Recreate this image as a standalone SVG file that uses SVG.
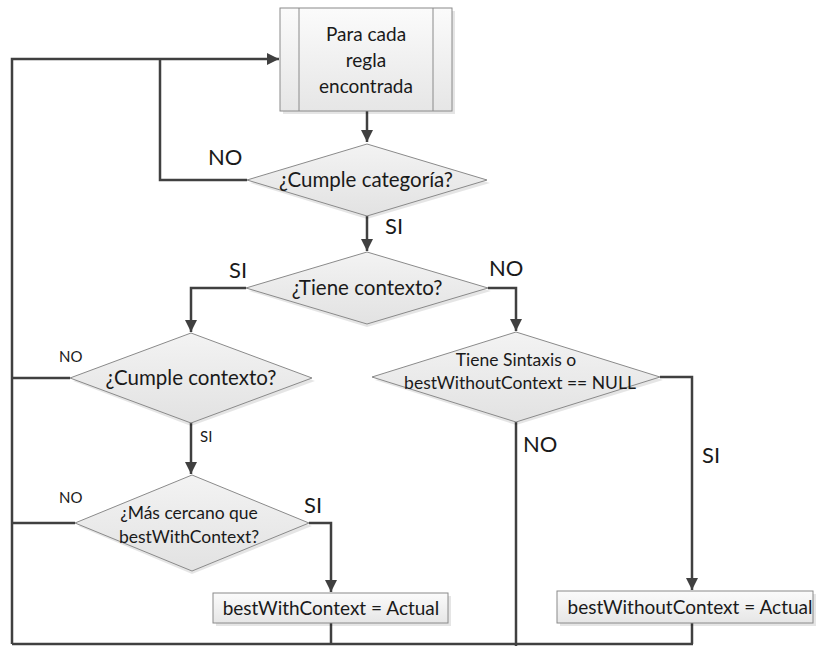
<svg xmlns="http://www.w3.org/2000/svg" width="817" height="646" viewBox="0 0 817 646">
  <style>
    .shape { stroke: #8a8a8a; stroke-width: 1; }
    .diamond { fill: url(#diamondFill); }
    .box { fill: url(#boxFill); }
    .shadow { fill: #000; opacity: 0.10; }
    .flow { fill: none; stroke: #404040; stroke-width: 2.5; }
    .arrow { fill: none; stroke: #404040; stroke-width: 2.5; marker-end: url(#head); }
    text { font-family: Lato, "Open Sans", "Liberation Sans", sans-serif; fill: #1a1a1a; }
    .t { font-size: 19px; text-anchor: middle; }
    .td { font-size: 20.5px; text-anchor: middle; }
    .tm { font-size: 17.5px; text-anchor: middle; }
    .ts { font-size: 17.5px; text-anchor: middle; }
    .lbl { font-size: 22px; }
    .lbls { font-size: 15px; }
  </style>
  <defs>
    <linearGradient id="diamondFill" x1="0" y1="0" x2="0" y2="1">
      <stop offset="0" stop-color="#f3f3f3"/>
      <stop offset="1" stop-color="#e2e2e2"/>
    </linearGradient>
    <linearGradient id="boxFill" x1="0" y1="0" x2="0" y2="1">
      <stop offset="0" stop-color="#fbfbfb"/>
      <stop offset="1" stop-color="#e6e6e6"/>
    </linearGradient>
    <marker id="head" viewBox="0 0 10 10" refX="10" refY="5" markerWidth="5" markerHeight="5" orient="auto" markerUnits="strokeWidth">
      <path d="M0,0 L10,5 L0,10 Z" fill="#404040"/>
    </marker>
  </defs>

  <!-- connectors -->
  <g id="connectors">
    <path class="arrow" d="M12,644 V59 H279"/>
    <path class="arrow" d="M367,111 V142"/>
    <path class="flow" d="M247,180 H160 V59"/>
    <path class="arrow" d="M367,216 V251"/>
    <path class="arrow" d="M246,288 H191 V332"/>
    <path class="arrow" d="M488,288 H516 V331"/>
    <path class="flow" d="M70,378 H12"/>
    <path class="arrow" d="M191,422 V474"/>
    <path class="flow" d="M75,523 H12"/>
    <path class="arrow" d="M309,523 H331 V592"/>
    <path class="flow" d="M331,622 V644"/>
    <path class="arrow" d="M660,377 H692 V590"/>
    <path class="flow" d="M692,623 V644"/>
    <path class="flow" d="M516,422 V646"/>
    <path class="flow" d="M12,644 H693"/>
  </g>

  <!-- edge labels -->
  <g id="labels">
    <text class="lbl" x="208" y="165">NO</text>
    <text class="lbl" x="385" y="234">SI</text>
    <text class="lbl" x="229" y="278">SI</text>
    <text class="lbl" x="489" y="276">NO</text>
    <text class="lbls" x="59" y="362">NO</text>
    <text class="lbls" x="200" y="442">SI</text>
    <text class="lbls" x="59" y="503">NO</text>
    <text class="lbl" x="304" y="513">SI</text>
    <text class="lbl" x="523" y="452">NO</text>
    <text class="lbl" x="702" y="463">SI</text>
  </g>

  <!-- predefined process -->
  <g id="node-para-cada">
    <rect class="shadow" x="283" y="11" width="172" height="103"/>
    <rect class="shape box" x="280" y="8" width="172" height="103"/>
    <line class="shape" x1="299" y1="8" x2="299" y2="111"/>
    <line class="shape" x1="433" y1="8" x2="433" y2="111"/>
    <text class="t" x="366" y="41">Para cada</text>
    <text class="t" x="366" y="67">regla</text>
    <text class="t" x="366" y="93">encontrada</text>
  </g>

  <g id="node-cumple-categoria">
    <polygon class="shadow" points="367,147 490,183 367,219 250,183"/>
    <polygon class="shape diamond" points="367,144 487,180 367,216 247,180"/>
    <text class="td" x="366" y="187">¿Cumple categoría?</text>
  </g>

  <g id="node-tiene-contexto">
    <polygon class="shadow" points="367,255 491,291 367,327 249,291"/>
    <polygon class="shape diamond" points="367,252 488,288 367,324 246,288"/>
    <text class="td" x="367" y="295">¿Tiene contexto?</text>
  </g>

  <g id="node-cumple-contexto">
    <polygon class="shadow" points="191,336 315,381 191,426 73,381"/>
    <polygon class="shape diamond" points="191,333 312,378 191,423 70,378"/>
    <text class="td" x="191" y="385">¿Cumple contexto?</text>
  </g>

  <g id="node-tiene-sintaxis">
    <polygon class="shadow" points="516,335 663,380 516,425 375,380"/>
    <polygon class="shape diamond" points="516,332 660,377 516,422 372,377"/>
    <text class="ts" x="516" y="366">Tiene Sintaxis o</text>
    <text class="ts" x="520" y="389">bestWithoutContext == NULL</text>
  </g>

  <g id="node-mas-cercano">
    <polygon class="shadow" points="192,478 312,526 192,574 78,526"/>
    <polygon class="shape diamond" points="192,475 309,523 192,571 75,523"/>
    <text class="tm" x="189" y="519">¿Más cercano que</text>
    <text class="tm" x="189" y="543">bestWithContext?</text>
  </g>

  <g id="node-best-with">
    <rect class="shadow" x="216" y="596" width="235" height="30"/>
    <rect class="shape box" x="213" y="593" width="235" height="30"/>
    <text class="t" x="331" y="615">bestWithContext = Actual</text>
  </g>

  <g id="node-best-without">
    <rect class="shadow" x="560" y="594" width="256" height="32"/>
    <rect class="shape box" x="557" y="591" width="256" height="32"/>
    <text class="t" x="690" y="614">bestWithoutContext = Actual</text>
  </g>
</svg>
